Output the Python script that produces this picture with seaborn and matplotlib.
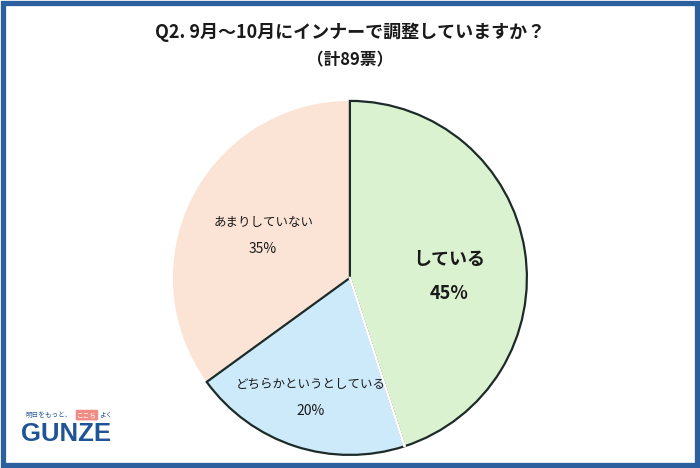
"""
Q2 pie chart: 9月～10月にインナーで調整していますか？
"""

import numpy as np
import matplotlib
matplotlib.use("Agg")
import matplotlib.pyplot as plt
import seaborn as sns
from matplotlib.patches import Rectangle

# data
labels = ["している", "どちらかというとしている", "あまりしていない"]
shares = [45, 20, 35]
colors = ["#dbf2d1", "#cdeafb", "#fbe4d6"]
edge_colors = ["#1d2b28", "#1d2b28", "none"]
title = "Q2. 9月～10月にインナーで調整していますか？"
subtitle = "（計89票）"

sns.set_theme(style="white")
plt.rcParams["font.family"] = ["Noto Sans CJK JP", "DejaVu Sans"]

fig = plt.figure(figsize=(7, 4.68), dpi=100)
fig.patch.set_facecolor("white")

# pie axes: centre ~ (350, 278) px, radius ~ 177 px
ax = fig.add_axes([0.247, 0.028, 0.5057, 0.7564])
wedges, _ = ax.pie(shares, colors=colors, startangle=90, counterclock=False,
                   wedgeprops=dict(linewidth=1.6))
for w, ec in zip(wedges, edge_colors):
    w.set_edgecolor(ec)
    if ec == "none":
        w.set_zorder(0)

# white separator between green and blue slices
ang = np.deg2rad(wedges[0].theta1)
ax.plot([0, np.cos(ang)], [0, np.sin(ang)], color="white", lw=2, zorder=5)
ax.set_xlim(-1.0, 1.0)
ax.set_ylim(-1.0, 1.0)
ax.set_aspect("equal")
ax.axis("off")

# labels inside slices
label_r = [0.57, 0.71, 0.55]
label_dy = [-0.08, 0.0, -0.01]
label_size = [13, 9, 9]
pct_size = [13, 10, 10]
label_weight = ["bold", "normal", "normal"]
gap = [0.095, 0.075, 0.075]
for i, w in enumerate(wedges):
    mid = np.deg2rad((w.theta1 + w.theta2) / 2)
    x = label_r[i] * np.cos(mid)
    y = label_r[i] * np.sin(mid) + label_dy[i]
    ax.text(x, y + gap[i], labels[i], ha="center", va="center",
            fontsize=label_size[i], fontweight=label_weight[i], color="#1a1a1a", zorder=6)
    ax.text(x, y - gap[i], f"{shares[i]}%", ha="center", va="center",
            fontsize=pct_size[i], fontweight=label_weight[i], color="#1a1a1a", zorder=6)

# titles
fig.text(0.5, 0.932, title, ha="center", va="center", fontsize=13,
         fontweight="bold", color="#1a1a1a")
fig.text(0.5, 0.872, subtitle, ha="center", va="center", fontsize=12,
         fontweight="bold", color="#1a1a1a")

# logo
fig.text(0.036, 0.113, "明日をもっと、", fontsize=4.8, color="#2b5c94", va="center")
fig.text(0.110, 0.113, "ここち", fontsize=4.8, color="white", va="center",
         bbox=dict(boxstyle="round,pad=0.2", fc="#f08c84", ec="none"))
fig.text(0.142, 0.113, "よく", fontsize=4.8, color="#2b5c94", va="center")
fig.text(0.030, 0.072, "GUNZE", fontsize=18.5, fontweight="bold",
         family="Liberation Sans", color="#1f5597", va="center")

# frame border
fig.patches.append(Rectangle((0.0036, 0.0055), 0.9928, 0.989, transform=fig.transFigure,
                             fill=False, ec="#2b5f9e", lw=3.8, zorder=10))

plt.savefig("out.png", dpi=100)
plt.close()
